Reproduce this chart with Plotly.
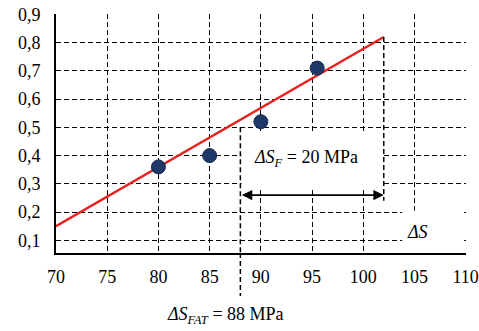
import plotly.graph_objects as go

# ---- data ----
stress = [80, 85, 90, 95.5]            # ΔS (MPa)
prob = [0.36, 0.40, 0.52, 0.71]        # measured points
fit_x = [70, 102]                      # fitted red line ends
fit_y = [0.15, 0.82]
s_fat = 88                             # ΔS_FAT
s_end = 102                            # end of ΔS_F span
arrow_y = 0.26
x_ticks = [70, 75, 80, 85, 90, 95, 100, 105, 110]
y_ticks = [0.1, 0.2, 0.3, 0.4, 0.5, 0.6, 0.7, 0.8, 0.9]

FONT = "Liberation Serif"
x_range = [70, 110.03]
y_range = [0.055, 0.9015]

fig = go.Figure()

fig.add_trace(go.Scatter(x=fit_x, y=fit_y, mode="lines",
                         line=dict(color="#e8231f", width=2.5),
                         hoverinfo="skip", showlegend=False))
fig.add_trace(go.Scatter(x=stress, y=prob, mode="markers",
                         marker=dict(size=14, color="#1f3868",
                                     line=dict(width=1, color="#15284d")),
                         showlegend=False))

# white areas where the grid is blanked in the reference
fig.add_shape(type="rect", xref="x", yref="y", x0=s_fat + 0.1, x1=s_end - 0.1,
              y0=0.285, y1=0.485, fillcolor="white", line=dict(width=0), layer="above")
fig.add_shape(type="rect", xref="x", yref="y", x0=103.8, x1=109.85,
              y0=y_range[0] + 0.004, y1=0.205, fillcolor="white", line=dict(width=0), layer="above")

dash_line = dict(color="black", width=1.5, dash="5px,3px")
# ΔS_FAT vertical (inside plot)
fig.add_shape(type="line", xref="x", yref="y", x0=s_fat, x1=s_fat,
              y0=0.5, y1=y_range[0], line=dash_line, layer="above")
# continuation below axis
fig.add_shape(type="line", xref="x", yref="paper", x0=s_fat, x1=s_fat,
              y0=0, y1=-0.18, line=dash_line, layer="above")
# vertical at end of ΔS_F
fig.add_shape(type="line", xref="x", yref="y", x0=s_end, x1=s_end,
              y0=fit_y[1], y1=arrow_y - 0.02, line=dash_line, layer="above")

# double arrow ΔS_F
fig.add_annotation(x=s_end, y=arrow_y, ax=s_fat, ay=arrow_y, xref="x", yref="y",
                   axref="x", ayref="y", text="", showarrow=True,
                   arrowhead=2, startarrowhead=2, arrowside="end+start",
                   arrowsize=1.3, startarrowsize=1.3, arrowwidth=1.6, arrowcolor="black")

fig.add_annotation(x=94.4, y=0.39, xref="x", yref="y",
                   text="<i>ΔS<sub>F</sub></i> = 20 MPa", showarrow=False,
                   font=dict(family=FONT, size=18, color="black"))
fig.add_annotation(x=105.3, y=0.13, xref="x", yref="y",
                   text="<i>ΔS</i>", showarrow=False,
                   font=dict(family=FONT, size=18, color="black"))
fig.add_annotation(x=86.5, y=-0.32, xref="x", yref="paper",
                   text="<i>ΔS<sub>FAT</sub></i> = 88 MPa", showarrow=False,
                   font=dict(family=FONT, size=18, color="black"))

axis_common = dict(showgrid=True, gridcolor="black", gridwidth=1.4, griddash="5px,3px",
                   showline=True, linecolor="black", linewidth=1.8,
                   zeroline=False, ticks="", ticklabeloverflow="allow", automargin=False,
                   tickfont=dict(family=FONT, size=18, color="black"))

fig.update_xaxes(range=x_range, tickvals=x_ticks, ticklabelstandoff=6, **axis_common)
fig.update_yaxes(range=y_range, tickvals=y_ticks, tickformat=".1f",
                 ticklabelstandoff=10, **axis_common)

fig.update_layout(width=479, height=331,
                  margin=dict(l=56, r=13, t=14, b=78, autoexpand=False),
                  plot_bgcolor="white", paper_bgcolor="white",
                  separators=", ", showlegend=False,
                  font=dict(family=FONT, color="black"))

fig.write_html("out.html", config={"displayModeBar": False},
               post_script="document.body.style.margin='0px';document.body.style.overflow='hidden';")
